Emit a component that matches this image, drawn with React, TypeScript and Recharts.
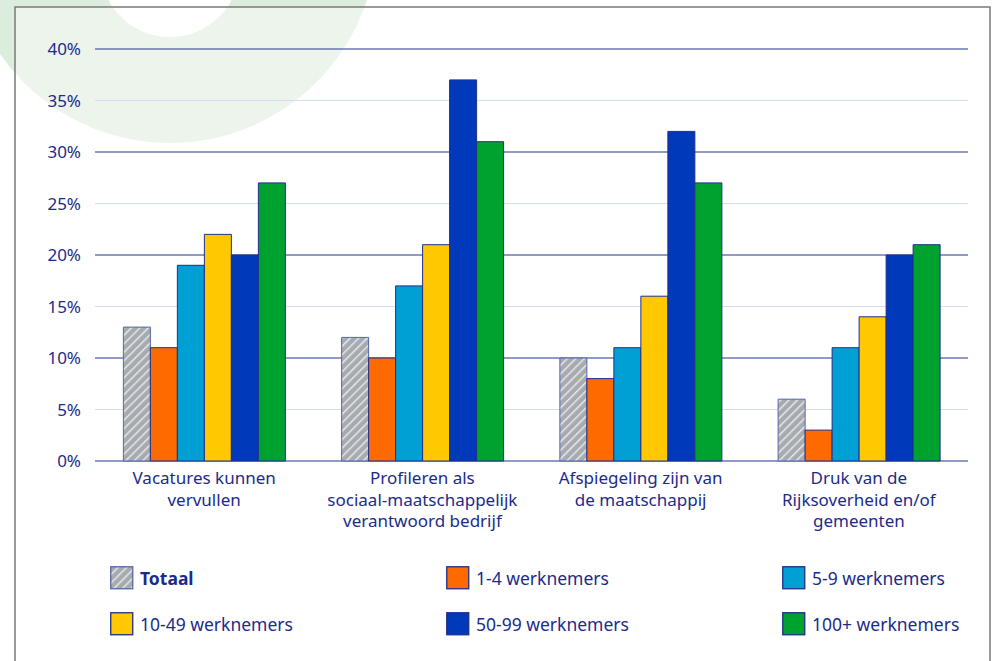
import React from 'react';
import { BarChart, Bar, XAxis, YAxis, CartesianGrid } from 'recharts';

const categories = [
    'Vacatures kunnen|vervullen',
    'Profileren als|sociaal-maatschappelijk|verantwoord bedrijf',
    'Afspiegeling zijn van|de maatschappij',
    'Druk van de|Rijksoverheid en/of|gemeenten',
];

const totaal = [13, 12, 10, 6];
const w1to4 = [11, 10, 8, 3];
const w5to9 = [19, 17, 11, 11];
const w10to49 = [22, 21, 16, 14];
const w50to99 = [20, 37, 32, 20];
const w100plus = [27, 31, 27, 21];

const yTicks = [0, 5, 10, 15, 20, 25, 30, 35, 40];

const series = [
    { key: 'totaal', name: 'Totaal', values: totaal, fill: 'url(#hatch)', stroke: '#5566a6', bold: true },
    { key: 'w1', name: '1-4 werknemers', values: w1to4, fill: '#ff6a00', stroke: '#1d2f8c', bold: false },
    { key: 'w5', name: '5-9 werknemers', values: w5to9, fill: '#00a0d4', stroke: '#1d2f8c', bold: false },
    { key: 'w10', name: '10-49 werknemers', values: w10to49, fill: '#ffc800', stroke: '#1d2f8c', bold: false },
    { key: 'w50', name: '50-99 werknemers', values: w50to99, fill: '#0039b9', stroke: '#1d2f8c', bold: false },
    { key: 'w100', name: '100+ werknemers', values: w100plus, fill: '#00a22f', stroke: '#1d2f8c', bold: false },
];

const TEXT = '#1b2b8a';
const FONT = '"Noto Sans", sans-serif';

const data = categories.map((cat, i) => {
    const row: Record<string, string | number> = { cat };
    series.forEach((s) => { row[s.key] = s.values[i]; });
    return row;
});

// x-axis labels are split on "|", one <text> per line
function CatTick(props: any) {
    const { x, y, payload } = props;
    const lines = String(payload.value).split('|');
    return (
        <g>
            {lines.map((l, i) => (
                <text key={i} x={x} y={y + 15 + i * 21.5} textAnchor="middle" fill={TEXT}
                    fontSize={17} fontFamily={FONT}>{l}</text>
            ))}
        </g>
    );
}

function GridLine(props: any) {
    const { x1, x2, y1, y2, index } = props;
    const major = index % 2 === 0;
    return (
        <line x1={x1} x2={x2} y1={y1} y2={y2}
            stroke={major ? '#24378f' : '#d6dcf0'} strokeWidth={major ? 1.2 : 1} />
    );
}

export default function App() {
    const legendCols = [110, 446, 782];
    const legendRows = [578, 624];

    return (
        <div style={{ position: 'absolute', left: 0, top: 0, width: 994, height: 661, overflow: 'hidden', background: '#fff', fontFamily: FONT }}>
            {/* background ring + frame */}
            <svg width={994} height={661} style={{ position: 'absolute', left: 0, top: 0 }}>
                <defs>
                    <pattern id="hatch" patternUnits="userSpaceOnUse" width={6} height={6} patternTransform="rotate(45)">
                        <rect width={6} height={6} fill="#a7abaf" />
                        <rect x={0} y={0} width={1.4} height={6} fill="#e9ebee" />
                    </pattern>
                </defs>
                <circle cx={170} cy={-64} r={207} fill="#dcecdd" />
                <circle cx={170} cy={-33} r={70} fill="#ffffff" />
                <rect x={15} y={7} width={975} height={680} fill="rgba(255,255,255,0.45)" stroke="#7a7a7a" strokeWidth={1.5} />
            </svg>

            <div style={{ position: 'absolute', left: 0, top: 0 }}>
                <BarChart width={994} height={661} data={data}
                    margin={{ top: 49, right: 26, left: 0, bottom: 0 }}
                    barCategoryGap="13%" barGap={0}>
                    <CartesianGrid vertical={false} horizontal={GridLine} />
                    <XAxis dataKey="cat" height={200} axisLine={false} tickLine={false}
                        interval={0} tick={<CatTick />} />
                    <YAxis width={95} domain={[0, 40]} ticks={yTicks} axisLine={false} tickLine={false}
                        tickMargin={8} tickSize={6}
                        tickFormatter={(v) => `${v}%`}
                        tick={{ fill: TEXT, fontSize: 17, fontFamily: FONT }} />
                    {series.map((s) => (
                        <Bar key={s.key} dataKey={s.key} name={s.name} fill={s.fill}
                            stroke={s.stroke} strokeWidth={1} isAnimationActive={false} />
                    ))}
                </BarChart>
            </div>

            {/* legend, 3 columns x 2 rows */}
            {series.map((s, i) => {
                const col = i % 3;
                const row = Math.floor(i / 3);
                const left = legendCols[col];
                const top = legendRows[row];
                return (
                    <div key={s.key} style={{ position: 'absolute', left, top: top - 12, height: 24, display: 'flex', alignItems: 'center' }}>
                        <svg width={24} height={24} style={{ marginRight: 6 }}>
                            <rect x={0.75} y={0.75} width={22} height={22} fill={s.fill} stroke={s.stroke} strokeWidth={1.3} />
                        </svg>
                        <span style={{ color: TEXT, fontSize: 17.5, fontWeight: s.bold ? 700 : 400 }}>{s.name}</span>
                    </div>
                );
            })}
        </div>
    );
}
